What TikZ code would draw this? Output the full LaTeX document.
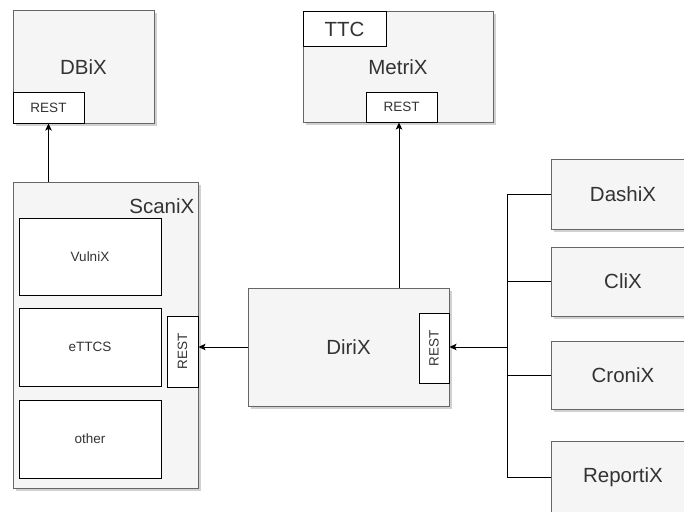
\documentclass[tikz,border=0pt]{standalone}
\usepackage{fontspec}
\setmainfont{Liberation Sans}
\usetikzlibrary{arrows.meta,shadows,calc}
\definecolor{boxfill}{HTML}{F5F5F5}
\definecolor{boxline}{HTML}{666666}
\definecolor{txt}{HTML}{333333}
\tikzset{
  bigtxt/.style={font=\fontsize{20.5}{24}\selectfont, text=txt},
  smalltxt/.style={font=\fontsize{13.5}{16}\selectfont, text=txt},
  service/.style={draw=boxline, line width=1pt, fill=boxfill, inner sep=0pt,
    drop shadow={shadow xshift=2.5pt, shadow yshift=-2.5pt, fill=black, opacity=0.18},
    bigtxt},
  port/.style={draw=black, line width=1pt, fill=white, inner sep=0pt, smalltxt},
  module/.style={draw=black, line width=1pt, fill=white, inner sep=0pt, smalltxt},
  link/.style={draw=black, line width=0.9pt},
  arrowlink/.style={link, -{Stealth[length=7pt, width=6.5pt, inset=1.5pt]}},
}
\begin{document}
\begin{tikzpicture}[x=1pt, y=-1pt]
  \clip (0,0) rectangle (684,511);
  \fill[white] (0,0) rectangle (684,511);

  % DBiX
  \node[service, minimum width=141, minimum height=112] (dbix) at (83.5,67) {DBiX};
  \node[port, minimum width=71, minimum height=31] (dbrest) at (48.5,107.5) {REST};

  % MetriX
  \node[service, minimum width=190, minimum height=110] (metrix) at (398,67) {MetriX};
  \node[port, bigtxt, minimum width=83, minimum height=35] (ttc) at (344.5,29.5) {TTC};
  \node[port, minimum width=71, minimum height=30] (mrest) at (401.5,107) {REST};

  % ScaniX with its scanners
  \node[service, minimum width=185, minimum height=306] (scanix) at (105.5,335) {};
  \node[bigtxt, anchor=east, inner sep=0pt] (scanixlbl) at ($(scanix.north east)+(-4,25)$) {ScaniX};
  \node[module, minimum width=142, minimum height=77] (vulnix) at (90,256.5) {VulniX};
  \node[module, minimum width=142, minimum height=78] (ettcs) at (90,347) {eTTCS};
  \node[module, minimum width=142, minimum height=78] (other) at (90,439) {other};
  \node[port, minimum width=31, minimum height=71] (srest) at (182.5,351.5) {\rotatebox{90}{REST}};

  % DiriX
  \node[service, minimum width=201, minimum height=118] (dirix) at (348.5,347) {DiriX};
  \node[port, minimum width=30, minimum height=70] (drest) at (434,348) {\rotatebox{90}{REST}};

  % Clients
  \node[service, minimum width=144, minimum height=70] (dashix) at (623,194) {DashiX};
  \node[service, minimum width=144, minimum height=69] (clix) at (623,281.5) {CliX};
  \node[service, minimum width=144, minimum height=68] (cronix) at (623,375) {CroniX};
  \node[service, minimum width=144, minimum height=72] (reportix) at (623,477) {ReportiX};

  % Connectors
  \draw[arrowlink] (dbrest.south |- scanix.north) -- (dbrest.south);
  \coordinate (mtap) at (399,0);
  \draw[arrowlink] (mtap |- dirix.north) -- (mtap |- mrest.south);
  \draw[arrowlink] (dirix.west) -- (srest.east |- dirix.west);
  \coordinate (trunk) at (507,347);
  \foreach \c in {dashix,clix,cronix,reportix}
    \draw[link] (\c.west) -| (trunk);
  \draw[arrowlink] (trunk) -- (drest.east |- trunk);
\end{tikzpicture}
\end{document}
